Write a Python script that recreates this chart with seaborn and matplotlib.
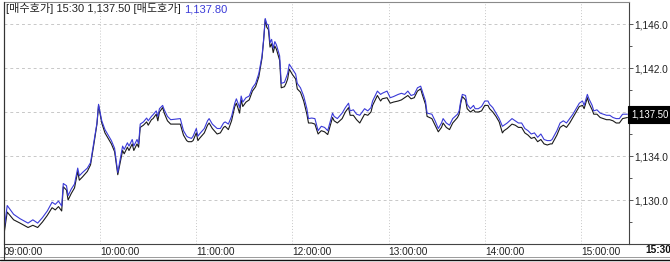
import matplotlib
matplotlib.use("Agg")
import matplotlib.pyplot as plt
from matplotlib.lines import Line2D
import numpy as np
import pandas as pd
import seaborn as sns

# ---------------- data ----------------
minutes = [0, 2, 6, 10, 15, 18, 21, 24, 27, 30, 32, 34, 36, 37, 39, 40, 42, 44, 46, 47,
           49, 52, 54, 56, 58, 59, 61, 63, 65, 67, 69, 71, 74, 75, 77, 78, 80, 81, 83, 84,
           85, 87, 89, 90, 92, 93, 95, 96, 97, 99, 100, 102, 104, 110, 112, 114, 115, 117, 118, 120,
           121, 122, 125, 127, 128, 130, 133, 135, 137, 138, 140, 142, 144, 145, 147, 148, 149, 151, 153, 155,
           157, 159, 161, 162, 163, 164, 165, 166, 167, 168, 169, 170, 172, 173, 175, 176, 177, 178, 180, 182,
           183, 185, 187, 189, 190, 192, 194, 196, 198, 200, 202, 205, 206, 208, 211, 213, 215, 216, 218, 220,
           222, 225, 227, 229, 230, 233, 235, 236, 239, 241, 243, 246, 248, 250, 252, 254, 256, 258, 260, 261,
           263, 264, 267, 269, 271, 273, 274, 276, 278, 280, 283, 284, 285, 286, 288, 289, 291, 293, 294, 296,
           298, 300, 302, 303, 305, 307, 309, 311, 312, 314, 317, 319, 321, 323, 325, 327, 329, 331, 333, 335,
           337, 339, 341, 342, 345, 347, 349, 351, 353, 355, 357, 359, 361, 362, 364, 365, 367, 368, 370, 372,
           374, 376, 378, 380, 382, 384, 386, 389]

ask = [1127.2, 1129.5, 1128.7, 1128.3, 1127.9, 1128.2, 1127.9, 1128.4, 1129.0, 1129.8, 1129.6, 1129.9, 1129.45, 1131.5, 1131.3, 1130.4, 1131.0, 1131.45, 1132.9, 1132.2,
       1132.5, 1132.9, 1133.4, 1135.2, 1137.0, 1138.7, 1137.2, 1136.4, 1135.9, 1135.4, 1134.7, 1132.5, 1134.9, 1134.6, 1135.2, 1134.9, 1135.5, 1134.9, 1135.5, 1135.1,
       1136.9, 1137.1, 1137.45, 1137.2, 1137.6, 1137.75, 1138.1, 1137.6, 1138.3, 1138.6, 1138.2, 1137.6, 1137.3, 1137.4, 1136.3, 1135.8, 1135.7, 1135.6, 1135.8, 1136.5,
       1135.8, 1136.0, 1136.5, 1137.2, 1137.4, 1136.9, 1136.5, 1136.5, 1137.0, 1137.1, 1136.9, 1137.6, 1138.8, 1139.2, 1138.4, 1139.45, 1138.9, 1139.3, 1139.45, 1140.2,
       1140.6, 1141.5, 1143.1, 1144.6, 1146.5, 1146.0, 1145.9, 1144.3, 1144.6, 1143.8, 1144.4, 1144.1, 1143.1, 1140.6, 1140.7, 1141.1, 1141.5, 1142.35, 1141.9, 1141.45,
       1140.6, 1140.2, 1139.45, 1138.3, 1137.4, 1137.45, 1137.4, 1136.3, 1136.7, 1136.6, 1136.3, 1137.9, 1137.6, 1137.4, 1137.9, 1138.4, 1138.8, 1138.1, 1138.2, 1137.8,
       1137.7, 1138.3, 1138.1, 1138.4, 1139.0, 1139.9, 1139.6, 1139.7, 1139.9, 1139.3, 1139.4, 1139.6, 1139.7, 1139.6, 1139.9, 1139.5, 1139.6, 1140.2, 1140.35, 1139.9,
       1139.0, 1137.9, 1137.8, 1137.2, 1136.5, 1137.0, 1137.4, 1137.0, 1136.8, 1137.4, 1137.8, 1138.1, 1139.0, 1139.6, 1139.5, 1138.7, 1138.3, 1138.6, 1138.3, 1138.3,
       1138.5, 1139.0, 1139.0, 1138.7, 1138.4, 1137.9, 1137.4, 1136.7, 1136.8, 1137.0, 1137.4, 1137.2, 1137.0, 1137.0, 1136.5, 1136.3, 1136.0, 1136.1, 1135.7, 1136.0,
       1135.5, 1135.4, 1135.4, 1135.5, 1136.3, 1137.0, 1137.2, 1137.0, 1137.4, 1137.8, 1138.3, 1138.8, 1139.0, 1138.6, 1139.6, 1139.2, 1138.6, 1138.1, 1138.2, 1137.9,
       1137.8, 1137.7, 1137.7, 1137.5, 1137.4, 1137.4, 1137.8, 1137.8]

bid = [1126.9, 1128.9, 1128.2, 1127.9, 1127.5, 1127.7, 1127.5, 1128.0, 1128.6, 1129.3, 1129.1, 1129.4, 1129.0, 1131.2, 1130.9, 1130.0, 1130.6, 1131.1, 1132.6, 1131.8,
       1132.1, 1132.6, 1133.2, 1135.0, 1136.9, 1138.6, 1137.0, 1136.1, 1135.6, 1135.1, 1134.4, 1132.3, 1134.5, 1134.2, 1134.8, 1134.5, 1135.1, 1134.5, 1135.1, 1134.8,
       1136.6, 1136.8, 1137.1, 1136.8, 1137.3, 1137.4, 1137.8, 1137.2, 1138.0, 1138.4, 1137.9, 1137.2, 1136.9, 1136.9, 1135.9, 1135.4, 1135.3, 1135.3, 1135.4, 1136.1,
       1135.4, 1135.6, 1136.1, 1136.8, 1137.0, 1136.5, 1136.0, 1136.1, 1136.6, 1136.7, 1136.4, 1137.2, 1138.5, 1138.8, 1137.9, 1139.1, 1138.5, 1138.9, 1139.1, 1139.9,
       1140.3, 1141.2, 1142.9, 1144.5, 1146.4, 1145.7, 1145.5, 1143.9, 1144.2, 1143.4, 1144.0, 1143.7, 1142.7, 1140.2, 1140.3, 1140.6, 1141.0, 1141.9, 1141.4, 1141.0,
       1140.1, 1139.8, 1139.0, 1137.8, 1137.0, 1137.0, 1136.9, 1136.0, 1136.3, 1136.2, 1135.95, 1137.5, 1137.2, 1137.0, 1137.4, 1138.0, 1138.4, 1137.7, 1137.7, 1137.3,
       1137.0, 1137.8, 1137.7, 1138.0, 1138.6, 1139.5, 1139.0, 1139.2, 1139.3, 1138.8, 1138.9, 1139.0, 1139.1, 1139.3, 1139.5, 1139.2, 1139.3, 1139.9, 1140.1, 1139.6,
       1138.7, 1137.6, 1137.4, 1136.8, 1136.2, 1136.6, 1137.0, 1136.6, 1136.4, 1137.0, 1137.5, 1137.8, 1138.8, 1139.4, 1139.1, 1138.3, 1138.0, 1138.2, 1138.0, 1138.0,
       1138.1, 1138.6, 1138.6, 1138.3, 1138.0, 1137.6, 1137.1, 1136.1, 1136.3, 1136.5, 1136.9, 1136.8, 1136.6, 1136.6, 1136.1, 1135.9, 1135.6, 1135.7, 1135.3, 1135.5,
       1135.1, 1135.0, 1135.1, 1135.1, 1135.9, 1136.6, 1136.8, 1136.6, 1137.0, 1137.5, 1138.0, 1138.5, 1138.6, 1138.3, 1139.3, 1138.8, 1138.2, 1137.8, 1137.8, 1137.5,
       1137.4, 1137.3, 1137.3, 1137.2, 1137.0, 1137.0, 1137.4, 1137.5]

hour_ticks = [0, 60, 120, 180, 240, 300, 360]
hour_labels = ["09:00:00", "10:00:00", "11:00:00", "12:00:00", "13:00:00", "14:00:00", "15:00:00"]
ytick_values = [1130, 1134, 1138, 1142, 1146]
ytick_labels = ["1,130.0", "1,134.0", "", "1,142.0", "1,146.0"]
yminor_values = [1128, 1132, 1136, 1140, 1144]
header_bid = "[매수호가] 15:30 1,137.50 [매도호가]"
header_ask = "1,137.80"
close_label = "15:30"
last_bid_label = "1,137.50"

# ---------------- style ----------------
sns.set_style("white")
plt.rcParams["font.family"] = ["Liberation Sans", "Noto Sans CJK KR", "DejaVu Sans"]

W, H = 670, 262
BLUE = "#3a3ad8"
fig = plt.figure(figsize=(W / 100, H / 100), dpi=100)
fig.patch.set_facecolor("white")
ax = fig.add_axes([4 / W, 18 / H, 625 / W, 242 / H])
ax.set_facecolor("white")

df = pd.DataFrame({"minute": minutes, "bid": bid, "ask": ask})
sns.lineplot(data=df, x="minute", y="bid", color="#1a1a1a", lw=0.8, ax=ax, zorder=3)
sns.lineplot(data=df, x="minute", y="ask", color=BLUE, lw=0.8, ax=ax, zorder=4)

ax.set_xlim(0, 390)
ax.set_ylim(1126, 1148)
ax.set_xlabel("")
ax.set_ylabel("")

# grid
for h in ytick_values:
    ax.axhline(h, color="#c8c8c8", lw=0.7, ls=(0, (3, 3)), zorder=1)
for v in hour_ticks[1:]:
    ax.axvline(v, color="#c8c8c8", lw=0.7, ls=(0, (1, 2)), zorder=1)

# x ticks
ax.set_xticks(hour_ticks)
ax.set_xticklabels(hour_labels)
for lbl in ax.get_xticklabels():
    lbl.set_ha("left")
ax.tick_params(axis="x", length=0, pad=2, labelsize=7.3, labelcolor="#222222")

# y ticks on right
ax.yaxis.tick_right()
ax.set_yticks(ytick_values)
ax.set_yticklabels(ytick_labels)
ax.set_yticks(yminor_values, minor=True)
ax.tick_params(axis="y", which="major", length=3, width=0.7, pad=1, labelsize=7.3,
               color="#555555", labelcolor="#222222", direction="out")
ax.tick_params(axis="y", which="minor", length=2, width=0.7, color="#555555", direction="out")

# spines
for side, col in [("top", "#8a8a8a"), ("left", "#333333"), ("bottom", "#444444"), ("right", "#444444")]:
    ax.spines[side].set_visible(True)
    ax.spines[side].set_color(col)
    ax.spines[side].set_linewidth(0.8)

# frame lines outside the axes
fig.add_artist(Line2D([629 / W, 1], [1 - 244 / H, 1 - 244 / H], color="#444444", lw=0.8))
fig.add_artist(Line2D([0, 1], [1 - 257 / H, 1 - 257 / H], color="#9a9a9a", lw=0.7))
fig.add_artist(Line2D([0, 1], [1 - 259.5 / H, 1 - 259.5 / H], color="#111111", lw=1.0))
fig.add_artist(Line2D([3.5 / W, 3.5 / W], [1 - 259 / H, 1 - 2 / H], color="#333333", lw=0.8))

# close-time label under the price axis
fig.text(645 / W, 1 - 250 / H, close_label, fontsize=7.3, fontweight="bold",
         va="center", ha="left", color="#111111")

# header texts
y_base = 1 - 12.5 / H
t1 = fig.text(6 / W, y_base, header_bid, fontsize=8.0, va="baseline", ha="left", color="#222222")
fig.canvas.draw()
bb = t1.get_window_extent()
fig.text((bb.x1 + 3) / W, y_base, header_ask, fontsize=8.0, va="baseline", ha="left", color=BLUE)

# current price box on the right axis
ax.annotate(last_bid_label, xy=(1, ask[-1]), xycoords=ax.get_yaxis_transform(),
            xytext=(2.0, 0), textcoords="offset points", va="center", ha="left",
            color="white", fontsize=6.9, annotation_clip=False, zorder=10,
            bbox=dict(boxstyle="square,pad=0.35", fc="black", ec="black", lw=0.8))

fig.savefig("out.png", dpi=100, facecolor="white")
